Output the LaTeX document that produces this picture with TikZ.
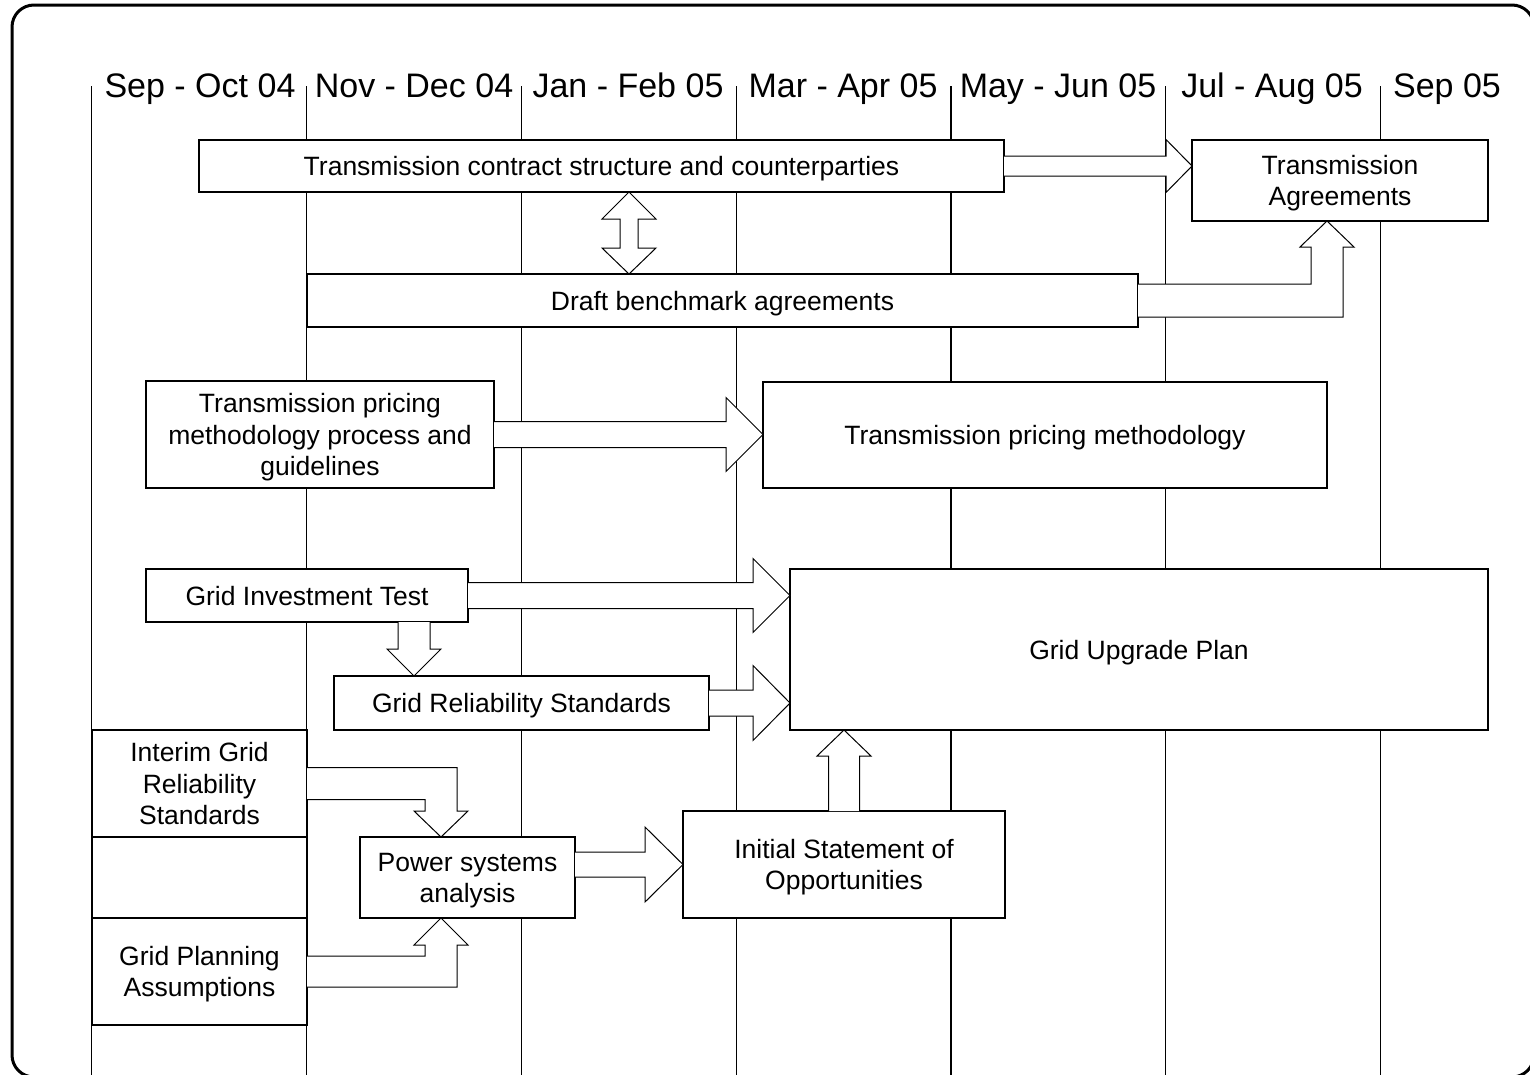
\documentclass[tikz,border=0pt]{standalone}
\usepackage{fontspec}
\setmainfont{Liberation Sans}
\usetikzlibrary{calc}
\tikzset{
 box/.style={draw, fill=white, line width=1.2pt, inner sep=0pt, outer sep=0pt, align=center, font=\fontsize{26.5}{31.5}\selectfont, text height=19pt, text depth=0pt},
 two/.style={text height=50.5pt},
 three/.style={text height=82pt},
 blk/.style={draw, fill=white, line width=1pt, line join=miter},
 hdr/.style={anchor=base, inner sep=0pt, font=\fontsize{34}{40}\selectfont},
 gridline/.style={line width=1.2pt},
 frame/.style={line width=3pt, rounded corners=22pt}
}
% horizontal block arrow: start, tip, shaft half, head half, head length
\newcommand\hblk[5]{\draw[blk] ($(#1)+(0,-#3)$) -- ($(#2)+(-#5,-#3)$) -- ($(#2)+(-#5,-#4)$) -- (#2) -- ($(#2)+(-#5,#4)$) -- ($(#2)+(-#5,#3)$) -- ($(#1)+(0,#3)$);}
% vertical block arrow: start, tip, shaft half, head half, signed offset of head base from tip
\newcommand\vblk[5]{\draw[blk] ($(#1)+(-#3,0)$) -- ($(#2)+(-#3,#5)$) -- ($(#2)+(-#4,#5)$) -- (#2) -- ($(#2)+(#4,#5)$) -- ($(#2)+(#3,#5)$) -- ($(#1)+(#3,0)$);}
\begin{document}
\begin{tikzpicture}[x=1pt,y=-1pt]
\useasboundingbox (0,0) rectangle (1530,1074);
\draw[frame] (12,5) rectangle (1534,1077);
\foreach \xx in {91.7,306.5,521.3,736.1,950.9,1165.7,1380.5} \draw[gridline] (\xx,86) -- (\xx,1080);
% headers
\node[hdr] (h1) at (200,97) {Sep - Oct 04};
\node[hdr] (h2) at (414,97) {Nov - Dec 04};
\node[hdr] (h3) at (628,97) {Jan - Feb 05};
\node[hdr] (h4) at (843,97) {Mar - Apr 05};
\node[hdr] (h5) at (1058,97) {May - Jun 05};
\node[hdr] (h6) at (1272,97) {Jul - Aug 05};
\node[hdr] (h7) at (1447,97) {Sep 05};
% boxes
\node[box, minimum width=805pt, minimum height=52pt] (tc) at (601.5,166) {Transmission contract structure and counterparties};
\node[box, two, minimum width=296pt, minimum height=81pt] (ta) at (1340,180.5) {Transmission\\Agreements};
\node[box, minimum width=831pt, minimum height=53pt] (dba) at (722.5,300.5) {Draft benchmark agreements};
\node[box, three, minimum width=348pt, minimum height=107pt] (tpp) at (320,434.5) {Transmission pricing\\methodology process and\\guidelines};
\node[box, minimum width=564pt, minimum height=106pt] (tpm) at (1045,435) {Transmission pricing methodology};
\node[box, minimum width=322pt, minimum height=53pt] (git) at (307,595.5) {Grid Investment Test};
\node[box, minimum width=698pt, minimum height=161pt] (gup) at (1139,649.5) {Grid Upgrade Plan};
\node[box, minimum width=375pt, minimum height=54pt] (grs) at (521.5,703) {Grid Reliability Standards};
\node[box, three, minimum width=215pt, minimum height=107pt] (ig) at (199.5,783.5) {Interim Grid\\Reliability\\Standards};
\node[box, minimum width=215pt, minimum height=81pt] (emp) at (199.5,877.5) {};
\node[box, two, minimum width=215pt, minimum height=81pt] (psa) at (467.5,877.5) {Power systems\\analysis};
\node[box, two, minimum width=322pt, minimum height=107pt] (isa) at (844,864.5) {Initial Statement of\\Opportunities};
\node[box, two, minimum width=215pt, minimum height=107pt] (gpa) at (199.5,971.5) {Grid Planning\\Assumptions};
% connector coordinates
\coordinate (aS) at (tc.east); \coordinate (aT) at (tc.east -| ta.west);
\coordinate (dS) at (tpp.east); \coordinate (dT) at (tpp.east -| tpm.west);
\coordinate (eS) at (git.east); \coordinate (eT) at (git.east -| gup.west);
\coordinate (gS) at (grs.east); \coordinate (gT) at (grs.east -| gup.west);
\coordinate (jT) at (isa.west); \coordinate (jS) at (psa.east |- isa.west);
\coordinate (fS) at ($(git.south east)+(-54,0)$); \coordinate (fT) at (fS |- grs.north);
\coordinate (kS) at (isa.north); \coordinate (kT) at (isa.north |- gup.south);
\coordinate (b1) at ($(tc.south)+(27.5,0)$); \coordinate (b2) at (b1 |- dba.north);
\coordinate (cS) at (dba.east); \coordinate (cT) at ($(ta.south)+(-13,0)$); \coordinate (cK) at (cS -| cT);
\coordinate (hS) at (ig.east); \coordinate (hT) at ($(psa.north)+(-26.5,0)$); \coordinate (hK) at (hS -| hT);
\coordinate (iS) at (gpa.east); \coordinate (iT) at ($(psa.south)+(-26.5,0)$); \coordinate (iK) at (iS -| iT);
% block arrows
\hblk{aS}{aT}{10}{26.5}{26}
\hblk{dS}{dT}{13}{37}{37}
\hblk{eS}{eT}{13}{37}{37}
\hblk{gS}{gT}{13}{37.5}{37}
\hblk{jS}{jT}{12.5}{37.5}{38}
\vblk{fS}{fT}{16}{27}{-27}
\vblk{kS}{kT}{15.5}{27}{26}
\draw[blk] (b1) -- ++(27,27) -- ++(-18,0) -- ($(b2)+(9,-26)$) -- ++(18,0) -- (b2) -- ++(-27,-26) -- ++(18,0) -- ($(b1)+(-9,27)$) -- ++(-18,0) -- cycle;
\draw[blk] ($(cS)+(0,-16.5)$) -- ($(cK)+(-16,-16.5)$) -- ($(cT)+(-16,26)$) -- ($(cT)+(-27,26)$) -- (cT) -- ($(cT)+(27,26)$) -- ($(cT)+(16,26)$) -- ($(cK)+(16,16.5)$) -- ($(cS)+(0,16.5)$);
\draw[blk] ($(hS)+(0,-16)$) -- ($(hK)+(16,-16)$) -- ($(hT)+(16,-26)$) -- ($(hT)+(27,-26)$) -- (hT) -- ($(hT)+(-27,-26)$) -- ($(hT)+(-16,-26)$) -- ($(hK)+(-16,16)$) -- ($(hS)+(0,16)$);
\draw[blk] ($(iS)+(0,15.5)$) -- ($(iK)+(16,15.5)$) -- ($(iT)+(16,27)$) -- ($(iT)+(27,27)$) -- (iT) -- ($(iT)+(-27,27)$) -- ($(iT)+(-16,27)$) -- ($(iK)+(-16,-15.5)$) -- ($(iS)+(0,-15.5)$);
\end{tikzpicture}
\end{document}
